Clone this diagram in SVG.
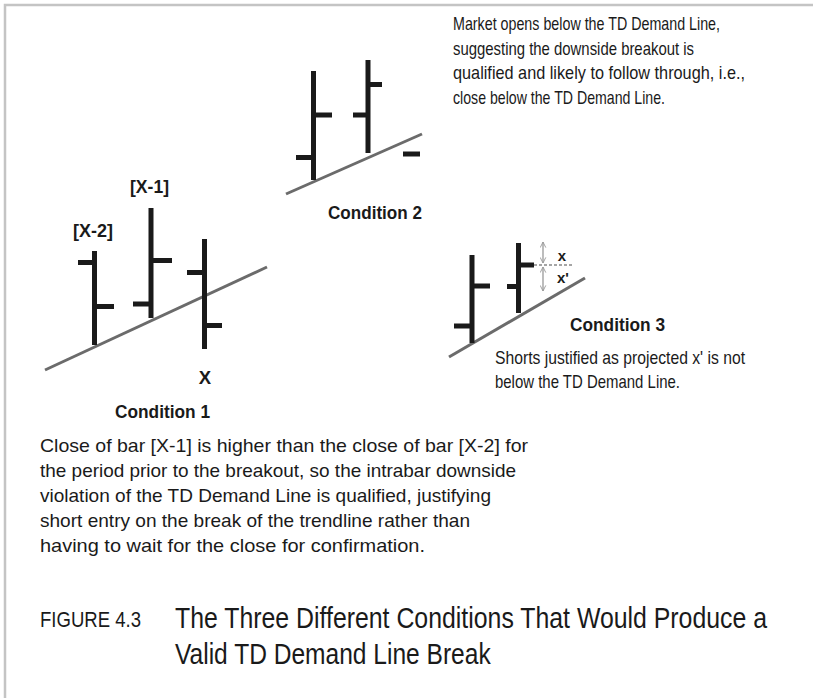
<svg xmlns="http://www.w3.org/2000/svg" width="813" height="698" viewBox="0 0 813 698">
<defs>
<style>
.t{font-family:"Liberation Sans Narrow","Liberation Sans",Arial,sans-serif;fill:#1a1a1a;}
.p{font-size:18.5px;}
.b{font-size:18.5px;font-weight:bold;}
.bar{stroke:#1a1a1a;stroke-width:5;fill:none;}
.trend{stroke:#6b6b6b;stroke-width:3;fill:none;}
.frame{stroke:#c4c4c4;stroke-width:2.5;fill:none;}
.ann{stroke:#999;stroke-width:1.3;fill:none;}
</style>
<marker id="ah" viewBox="0 0 10 10" refX="9" refY="5" markerWidth="7" markerHeight="7" orient="auto-start-reverse" markerUnits="userSpaceOnUse">
<path d="M1,1 L9,5 L1,9" fill="none" stroke="#999" stroke-width="1.3"/>
</marker>
</defs>
<rect width="813" height="698" fill="#fff"/>
<path class="frame" d="M5,698 V5 H813"/>

<g id="condition1">
<line class="trend" x1="45" y1="370" x2="267" y2="267"/>
<path class="bar" d="M94.5,251V345 M78,262.5H94.5 M94.5,306.5H114"/>
<path class="bar" d="M151,208V318 M133,304H151 M151,260.5H172"/>
<path class="bar" d="M204.5,239V349 M187,272.5H204.5 M204.5,325.5H222"/>
<text class="t b" x="73" y="237" textLength="40" lengthAdjust="spacingAndGlyphs">[X-2]</text>
<text class="t b" x="130" y="193" textLength="39" lengthAdjust="spacingAndGlyphs">[X-1]</text>
<text class="t b" x="205" y="384" text-anchor="middle">X</text>
<text class="t b" x="115" y="418" textLength="95" lengthAdjust="spacingAndGlyphs">Condition 1</text>
</g>

<g id="condition2">
<line class="trend" x1="286" y1="194" x2="422" y2="134"/>
<path class="bar" d="M313.5,71V180 M296,157.5H313.5 M313.5,115H332"/>
<path class="bar" d="M368,60V153 M353,115H368 M368,84.5H382"/>
<path class="bar" d="M403,154H420"/>
<text class="t b" x="328" y="219" textLength="94" lengthAdjust="spacingAndGlyphs">Condition 2</text>
</g>

<g id="condition3">
<line class="trend" x1="449" y1="357" x2="585" y2="278"/>
<path class="bar" d="M472,255V343 M454,326H472 M472,286H490"/>
<path class="bar" d="M518.5,243V313 M507,286.5H518.5 M518.5,265H534"/>
<line x1="534" y1="265" x2="574" y2="265" stroke="#888" stroke-width="1.3" stroke-dasharray="3,2"/>
<text class="t" x="562" y="261" text-anchor="middle" font-size="15" font-weight="bold">x</text>
<text class="t" x="563" y="283" text-anchor="middle" font-size="15" font-weight="bold">x'</text>
<text class="t b" x="570" y="331" textLength="95" lengthAdjust="spacingAndGlyphs">Condition 3</text>
<text class="t p" x="495" y="364" textLength="250" lengthAdjust="spacingAndGlyphs">Shorts justified as projected x' is not</text>
<text class="t p" x="495" y="388" textLength="185" lengthAdjust="spacingAndGlyphs">below the TD Demand Line.</text>
</g>

<g id="connectors">
<line class="ann" x1="543" y1="263" x2="543" y2="242" marker-end="url(#ah)" marker-start="url(#ah)"/>
<line class="ann" x1="543" y1="267" x2="543" y2="291" marker-end="url(#ah)" marker-start="url(#ah)"/>
</g>

<g id="note-top">
<text class="t p" x="453" y="30" textLength="267" lengthAdjust="spacingAndGlyphs">Market opens below the TD Demand Line,</text>
<text class="t p" x="453" y="55" textLength="241" lengthAdjust="spacingAndGlyphs">suggesting the downside breakout is</text>
<text class="t p" x="453" y="79" textLength="292" lengthAdjust="spacingAndGlyphs">qualified and likely to follow through, i.e.,</text>
<text class="t p" x="453" y="104" textLength="212" lengthAdjust="spacingAndGlyphs">close below the TD Demand Line.</text>
</g>

<g id="note-bottom">
<text class="t p" x="40" y="452" textLength="488" lengthAdjust="spacingAndGlyphs">Close of bar [X-1] is higher than the close of bar [X-2] for</text>
<text class="t p" x="40" y="477" textLength="476" lengthAdjust="spacingAndGlyphs">the period prior to the breakout, so the intrabar downside</text>
<text class="t p" x="40" y="502" textLength="451" lengthAdjust="spacingAndGlyphs">violation of the TD Demand Line is qualified, justifying</text>
<text class="t p" x="40" y="527" textLength="430" lengthAdjust="spacingAndGlyphs">short entry on the break of the trendline rather than</text>
<text class="t p" x="40" y="552" textLength="385" lengthAdjust="spacingAndGlyphs">having to wait for the close for confirmation.</text>
</g>

<g id="caption">
<text class="t" x="40" y="627" font-size="22" fill="#333" textLength="101" lengthAdjust="spacingAndGlyphs">FIGURE 4.3</text>
<text class="t" transform="translate(175,628) scale(0.82,1)" x="0" y="0" font-size="30" textLength="722" lengthAdjust="spacingAndGlyphs">The Three Different Conditions That Would Produce a</text>
<text class="t" transform="translate(175,664) scale(0.82,1)" x="0" y="0" font-size="30" textLength="385" lengthAdjust="spacingAndGlyphs">Valid TD Demand Line Break</text>
</g>
</svg>
